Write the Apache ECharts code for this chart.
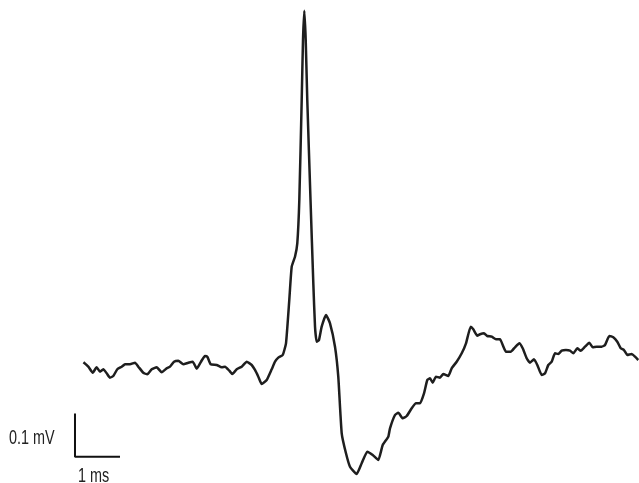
<!DOCTYPE html>
<html>
<head>
<meta charset="utf-8">
<script src="https://cdn.jsdelivr.net/npm/echarts@6/dist/echarts.min.js"></script>
<style>
    html, body { margin: 0; padding: 0; background: #fff; }
    #cn { width: 639px; height: 483px; }
</style>
</head>
<body>
<div id="cn"></div>
<script>
'use strict';

// time in ms (0 = start of trace), voltage in mV (0 = baseline)
const arrTime = [
    0.01, 0.118, 0.216, 0.304, 0.378, 0.451, 0.527, 0.600, 0.673, 0.762,
    0.860, 0.933, 1.044, 1.156, 1.229, 1.340, 1.429, 1.527, 1.638, 1.749,
    1.860, 1.933, 2.022, 2.118, 2.229, 2.340, 2.438, 2.527, 2.622, 2.711,
    2.762, 2.838, 2.971, 3.082, 3.156, 3.251, 3.318, 3.416, 3.527, 3.638,
    3.749, 3.822, 3.896, 3.971, 4.082, 4.193, 4.267, 4.340, 4.438, 4.511,
    4.584, 4.638, 4.711, 4.762, 4.807, 4.860, 4.889, 4.918, 4.949, 4.984,
    5.056, 5.118, 5.156, 5.193, 5.244, 5.304, 5.400, 5.489, 5.600, 5.673,
    5.749, 5.844, 5.933, 6.082, 6.193, 6.318, 6.438, 6.562, 6.660, 6.784,
    6.822, 6.933, 7.007, 7.104, 7.193, 7.304, 7.400, 7.489, 7.578, 7.651,
    7.711, 7.771, 7.844, 7.933, 8.007, 8.118, 8.193, 8.304, 8.416, 8.511,
    8.616, 8.673, 8.762, 8.822, 8.911, 8.984, 9.082, 9.178, 9.267, 9.327,
    9.400, 9.504, 9.600, 9.696, 9.771, 9.860, 9.933, 10.022, 10.096, 10.193,
    10.267, 10.340, 10.416, 10.489, 10.562, 10.638, 10.733, 10.822, 10.896, 10.984,
    11.060, 11.156, 11.251, 11.327, 11.416, 11.527, 11.600, 11.696, 11.784, 11.873,
    11.949, 12.022, 12.096, 12.193, 12.267, 12.340
];
const arrVolt = [
    0.0062, -0.0039, -0.0178, -0.0053, -0.0155, -0.0099, -0.0192, -0.0293, -0.0254, -0.0099,
    -0.0039, 0.0016, 0.0016, 0.0053, -0.0039, -0.0178, -0.0215, -0.0099, -0.0053, -0.0169,
    -0.0076, -0.0039, 0.0076, 0.0099, 0.0016, 0.0053, 0.0076, -0.0085, 0.0076, 0.0208,
    0.0192, 0.0016, 0.0, -0.0053, -0.0039, -0.0132, -0.0208, -0.0099, -0.0039, 0.0076,
    0.0, -0.0115, -0.0270, -0.0439, -0.0346, -0.0099, 0.0076, 0.0169, 0.0231, 0.0501,
    0.150, 0.227, 0.250, 0.281, 0.381, 0.612, 0.751, 0.818, 0.751, 0.612,
    0.381, 0.189, 0.0885, 0.0538, 0.0577, 0.0885, 0.1155, 0.0963, 0.0423, -0.0270,
    -0.1577, -0.2039, -0.2349, -0.2517, -0.2270, -0.2002, -0.2079, -0.2194, -0.1848, -0.1656,
    -0.1462, -0.1155, -0.1102, -0.1231, -0.1178, -0.1000, -0.0885, -0.0885, -0.0654, -0.0346,
    -0.0307, -0.0409, -0.0270, -0.0293, -0.0208, -0.0254, -0.0076, 0.0076, 0.0270, 0.0501,
    0.0885, 0.0824, 0.0677, 0.0709, 0.0732, 0.0670, 0.0654, 0.0594, 0.0594, 0.0462,
    0.0307, 0.0307, 0.0409, 0.0501, 0.0386, 0.0155, 0.0053, 0.0132, 0.0, -0.0231,
    -0.0192, 0.0, 0.0076, 0.0270, 0.0254, 0.0330, 0.0346, 0.0330, 0.0270, 0.0386,
    0.0330, 0.0423, 0.0515, 0.0409, 0.0423, 0.0423, 0.0462, 0.0670, 0.0640, 0.0538,
    0.0386, 0.0346, 0.0231, 0.0254, 0.0192, 0.0115
];

// scale bar: 0.1 mV vertical, 1 ms horizontal
const arrScaleTime = [-0.178, -0.178, 0.822];
const arrScaleVolt = [-0.112, -0.212, -0.212];
const strScaleV = '0.1 mV';
const strScaleT = '1 ms';

const fPxPerMs = 45;
const fPxPerMv = 433;
const fOriginX = 83;  // px of t = 0
const fOriginY = 365; // px of v = 0
const nW = 639;
const nH = 483;

const strFont = '20px "Liberation Sans", Arial, sans-serif';

const optionChart = {
    animation: false,
    grid: {
        left: 0,
        right: 0,
        top: 0,
        bottom: 0
    },
    xAxis: {
        type: 'value',
        min: -fOriginX / fPxPerMs,
        max: (nW - fOriginX) / fPxPerMs,
        show: false
    },
    yAxis: {
        type: 'value',
        min: -(nH - fOriginY) / fPxPerMv,
        max: fOriginY / fPxPerMv,
        show: false
    },
    series: [{
            name: 'trace',
            type: 'line',
            symbol: 'none',
            smooth: 0.15,
            lineStyle: {
                width: 2.5,
                color: '#1e1e1e',
                join: 'round'
            },
            data: arrTime.map((t, i) => [t, arrVolt[i]])
        },
        {
            name: 'scale',
            type: 'line',
            symbol: 'none',
            lineStyle: {
                width: 2,
                color: '#111'
            },
            data: arrScaleTime.map((t, i) => [t, arrScaleVolt[i]])
        }
    ],
    graphic: [{
            type: 'text',
            x: 9,
            y: 428,
            scaleX: 0.72,
            style: {
                text: strScaleV,
                fill: '#222',
                font: strFont,
                verticalAlign: 'top'
            }
        },
        {
            type: 'text',
            x: 78,
            y: 466,
            scaleX: 0.72,
            style: {
                text: strScaleT,
                fill: '#222',
                font: strFont,
                verticalAlign: 'top'
            }
        }
    ]
};

//main
{
    const echartsTrace = echarts.init(document.getElementById('cn'));
    echartsTrace.setOption(optionChart);
}
</script>
</body>
</html>
